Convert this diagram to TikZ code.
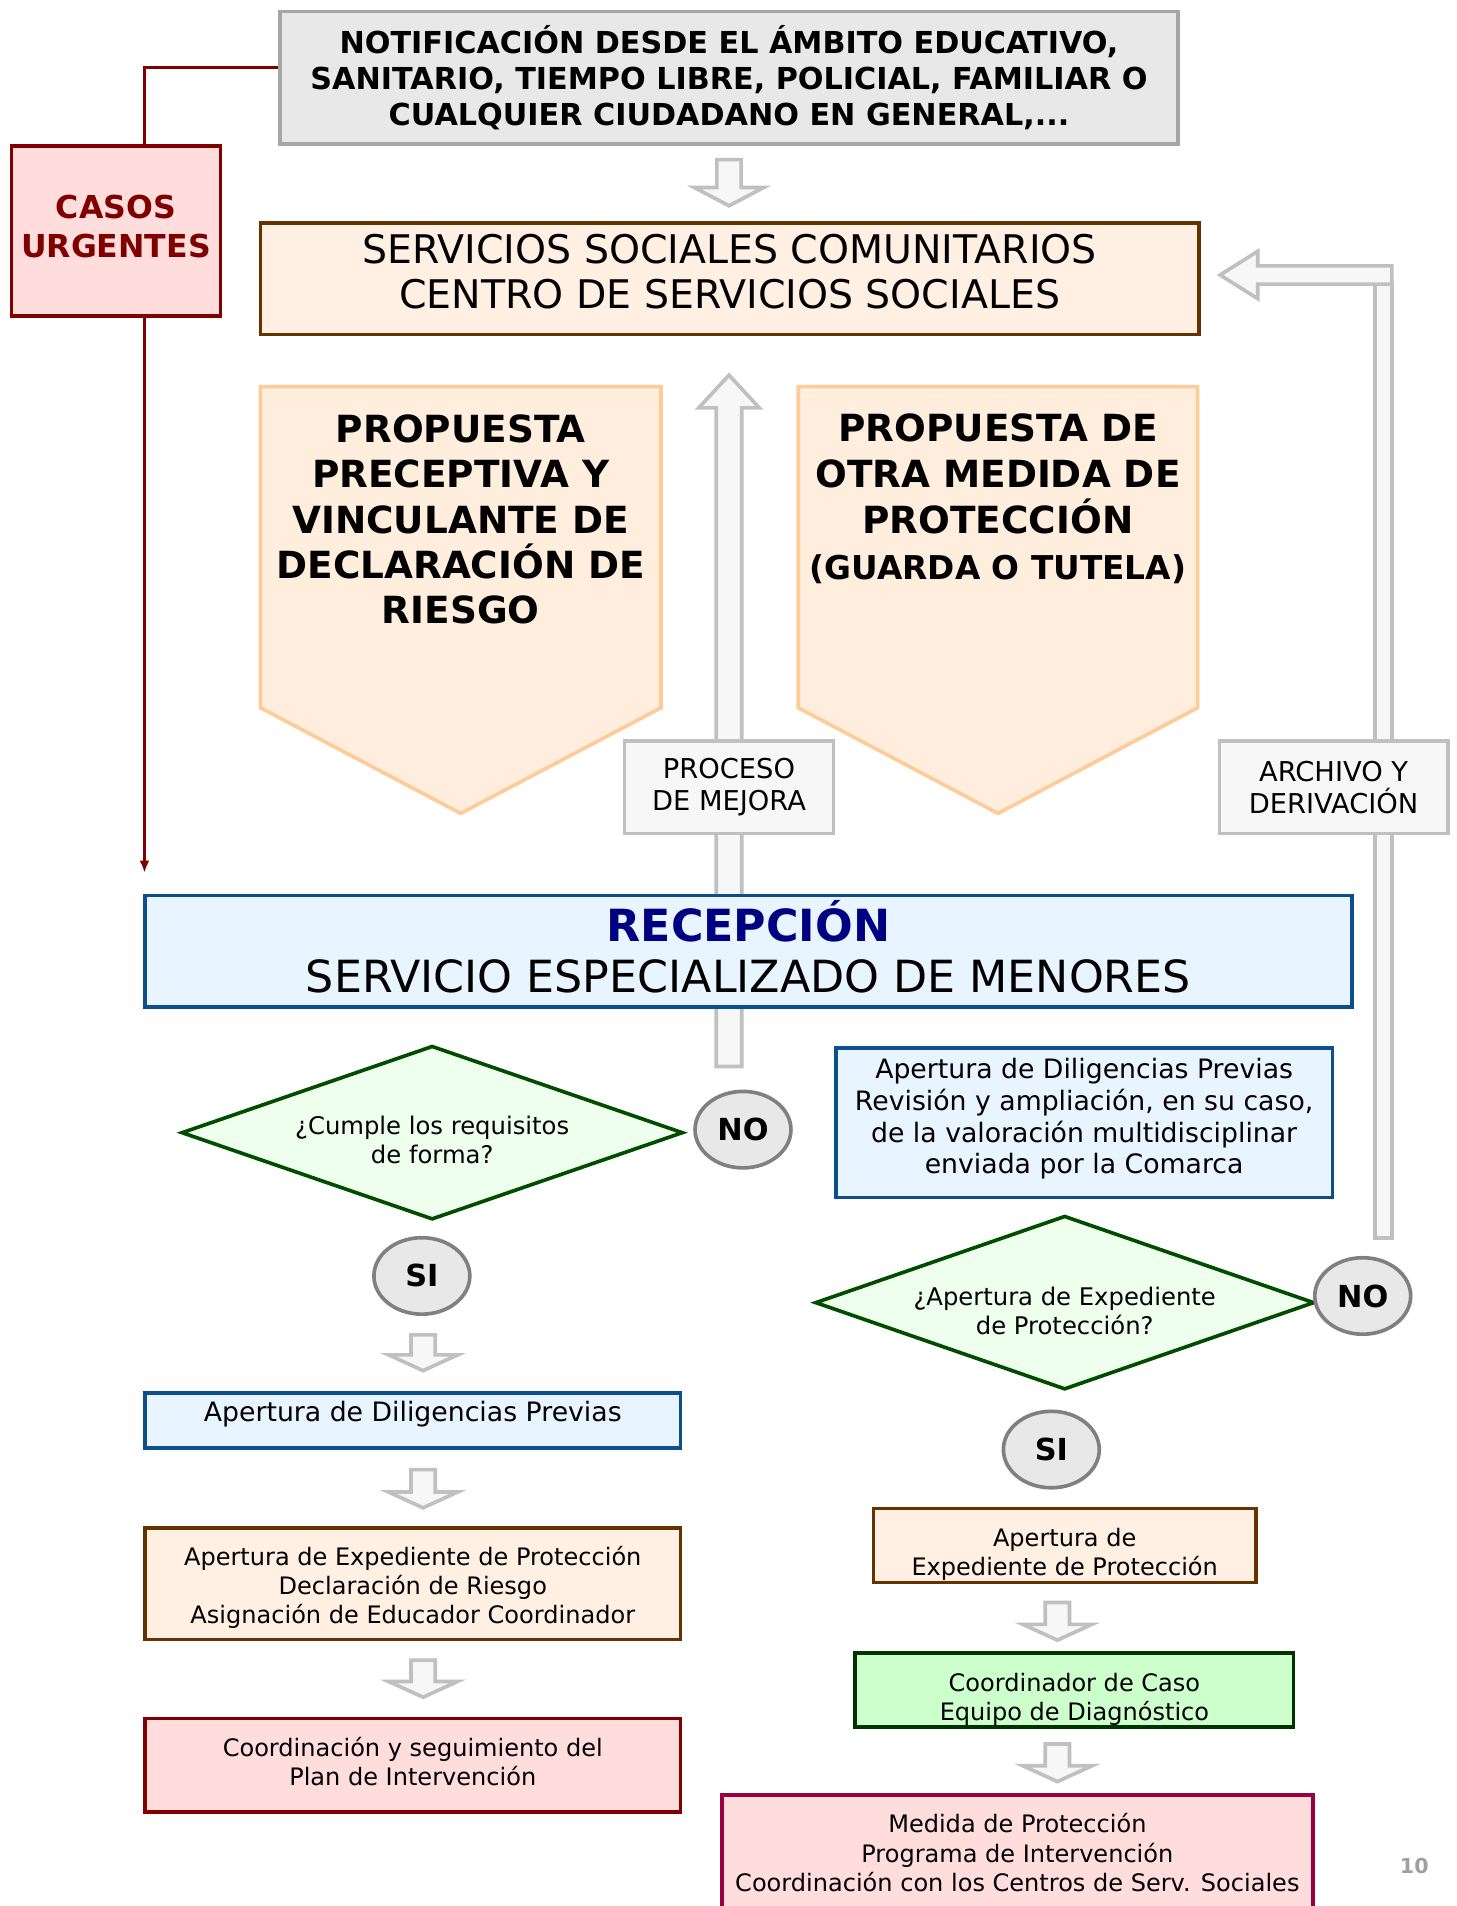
\documentclass[tikz,border=0pt]{standalone}
\usepackage{fontspec}
\setmainfont{DejaVu Sans}
\usetikzlibrary{shapes.geometric,calc,arrows.meta}
\definecolor{notifFill}{HTML}{E8E8E8}
\definecolor{notifDraw}{HTML}{A6A6A6}
\definecolor{darkred}{HTML}{800000}
\definecolor{pinkFill}{HTML}{FFDDDD}
\definecolor{arrowDraw}{HTML}{C0C0C0}
\definecolor{arrowFill}{HTML}{F7F7F7}
\definecolor{sscFill}{HTML}{FFF0E3}
\definecolor{sscDraw}{HTML}{663300}
\definecolor{pentFill}{HTML}{FFEDDD}
\definecolor{pentDraw}{HTML}{FFCC99}
\definecolor{recFill}{HTML}{E8F4FF}
\definecolor{recDraw}{HTML}{0B4F8C}
\definecolor{navy}{HTML}{000080}
\definecolor{decFill}{HTML}{EEFFEE}
\definecolor{decDraw}{HTML}{004D00}
\definecolor{ovalFill}{HTML}{E8E8E8}
\definecolor{ovalDraw}{HTML}{808080}
\definecolor{greenFill}{HTML}{CCFFCC}
\definecolor{greenDraw}{HTML}{003300}
\definecolor{crimson}{HTML}{990044}
\definecolor{pageGray}{HTML}{A0A0A0}
\newcommand\fsz[2]{\fontsize{#1pt}{#2pt}\selectfont}
\newcommand\hollowdown[3]{\draw[hollow] let \p1=(#1), \p2=(#2) in
  (\x1-10pt,\y1) -- (\x1+10pt,\y1) -- (\x1+10pt,\y2+#3) -- (\x1+28.5pt,\y2+#3) --
  (\x2,\y2) -- (\x1-28.5pt,\y2+#3) -- (\x1-10pt,\y2+#3) -- cycle;}
\newcommand\decisionshape[3]{\draw[decision] ($(#1)+(-#2,0)$) -- ($(#1)+(0,-#3)$) --
  ($(#1)+(#2,0)$) -- ($(#1)+(0,#3)$) -- cycle;}
\begin{document}
\begin{tikzpicture}[x=1pt,y=-1pt,
  box/.style={rectangle, draw, line width=3pt, inner sep=0pt, align=center},
  txt/.style={align=center, inner sep=0pt},
  hollow/.style={draw=arrowDraw, fill=arrowFill, line width=3pt, line join=miter},
  pent/.style={draw=pentDraw, fill=pentFill, line width=3pt, line join=miter},
  oval/.style={ellipse, draw=ovalDraw, fill=ovalFill, line width=3pt, minimum width=79pt, minimum height=63pt, inner sep=0pt, font=\bfseries\fsz{25}{30}},
  decision/.style={draw=decDraw, fill=decFill, line width=3pt, line join=miter},
  dectxt/.style={txt, font=\fsz{20}{23.5}},
  redline/.style={draw=darkred, line width=2.5pt},
  small/.style={font=\fsz{19.8}{24}},
  greybox/.style={box, draw=arrowDraw, fill=arrowFill, font=\fsz{22.5}{26}}
]
\useasboundingbox (0,0) rectangle (1200,1570);
\clip (0,0) rectangle (1200,1570);
\fill[white] (0,0) rectangle (1200,1570);

% ---- big hollow arrows (behind) ----
\coordinate (pmB) at (600.5,878.5);
\coordinate (pmT) at (600.5,309);
\draw[hollow] let \p1=(pmB), \p2=(pmT) in
  (\x1-10.5pt,\y1) -- (\x1+10.5pt,\y1) -- (\x1+10.5pt,\y2-27pt) -- (\x1+25pt,\y2-27pt) --
  (\x2,\y2) -- (\x1-25pt,\y2-27pt) -- (\x1-10.5pt,\y2-27pt) -- cycle;

\coordinate (adB) at (1139.5,1019.5);
\coordinate (adC) at (1139.5,226.5);
\coordinate (adT) at (1005,226.5);
\draw[hollow] let \p1=(adB), \p2=(adC) in (\x1-7pt,\y1) rectangle (\x1+7pt,\y2-7.5pt);
\draw[hollow] let \p1=(adC), \p2=(adT) in
  (\x1+7pt,\y1+7.5pt) -- (\x2+31pt,\y1+7.5pt) -- (\x2+31pt,\y1+19.5pt) -- (\x2,\y2) --
  (\x2+31pt,\y1-19.5pt) -- (\x2+31pt,\y1-7.5pt) -- (\x1+7pt,\y1-7.5pt) -- cycle;

% ---- top ----
\node[box, draw=notifDraw, fill=notifFill, minimum width=740pt, minimum height=109pt,
  font=\bfseries\fsz{24.9}{29.5}] (notif) at (600.5,64)
  {NOTIFICACIÓN DESDE EL ÁMBITO EDUCATIVO,\\SANITARIO, TIEMPO LIBRE, POLICIAL, FAMILIAR O\\CUALQUIER CIUDADANO EN GENERAL,...};

\node[box, draw=darkred, fill=pinkFill, minimum width=172pt, minimum height=140pt] (casos) at (95.5,190.5) {};
\node[txt, text=darkred, font=\bfseries\fsz{26}{32}] (casostxt) at (95.5,186.5) {CASOS\\URGENTES};

\node[box, draw=sscDraw, fill=sscFill, minimum width=773pt, minimum height=92pt] (ssc) at (601,229.5) {};
\node[txt, font=\fsz{32.5}{37}] (ssctxt) at (601,223.5) {SERVICIOS SOCIALES COMUNITARIOS\\CENTRO DE SERVICIOS SOCIALES};

% red connector
\coordinate (rx) at (119,0);
\draw[redline] ($(notif.west)+(0,-8)$) -| (casos.north -| rx);

% ---- pentagons ----
\draw[pent] (214.5,318.5) -- (544.5,318.5) -- (544.5,583) -- (379.5,670) -- (214.5,583) -- cycle;
\node[txt, font=\bfseries\fsz{30.8}{37.3}] (pentL) at (379.5,428)
  {PROPUESTA\\PRECEPTIVA Y\\VINCULANTE DE\\DECLARACIÓN DE\\RIESGO};
\draw[pent] (657.5,318.5) -- (986.5,318.5) -- (986.5,583) -- (822,670) -- (657.5,583) -- cycle;
\node[txt, font=\bfseries\fsz{30.8}{37.8}] (pentR) at (822,411)
  {PROPUESTA DE\\OTRA MEDIDA DE\\PROTECCIÓN\\{\fsz{27}{37.8}(GUARDA O TUTELA)}};

% ---- grey label boxes ----
\node[greybox, minimum width=172pt, minimum height=76pt] (pmbox) at (600.5,648.5) {PROCESO\\DE MEJORA};
\node[greybox, minimum width=188pt, minimum height=76pt] (adbox) at (1098.5,648.5) {ARCHIVO Y\\DERIVACIÓN};

% ---- recepcion ----
\node[box, draw=recDraw, fill=recFill, minimum width=994pt, minimum height=92pt] (recep) at (616.5,783.5) {};
\node[txt, font=\fsz{36.5}{42}] (reptxt) at (616.5,779.5)
  {{\color{navy}\bfseries RECEPCIÓN}\\SERVICIO ESPECIALIZADO DE MENORES};

\draw[redline, -{Latex[length=10pt,width=8pt]}] (casos.south -| rx) -- ($(rx |- recep.north)+(0,-17)$);

% ---- left column ----
\coordinate (q1c) at (356,933);
\decisionshape{q1c}{206}{71}
\node[dectxt] (q1) at (356,939) {¿Cumple los requisitos\\de forma?};
\node[oval] (no1) at (612,930.5) {NO};
\node[oval] (si1) at (347.5,1051) {SI};

\node[box, draw=recDraw, fill=recFill, minimum width=441pt, minimum height=45pt] (dpL) at (340,1170) {};
\node[txt, font=\fsz{22}{24.5}] (dpLtxt) at (340,1165) {Apertura de Diligencias Previas};
\node[box, draw=sscDraw, fill=sscFill, minimum width=441pt, minimum height=92pt] (expL) at (340,1304.5) {};
\node[txt, small] (expLtxt) at (340,1307.5)
  {Apertura de Expediente de Protección\\Declaración de Riesgo\\Asignación de Educador Coordinador};
\node[box, draw=darkred, fill=pinkFill, minimum width=441pt, minimum height=77pt] (planL) at (340,1454) {};
\node[txt, small] (planLtxt) at (340,1451) {Coordinación y seguimiento del\\Plan de Intervención};

% ---- right column ----
\node[box, draw=recDraw, fill=recFill, minimum width=409pt, minimum height=123pt] (dpR) at (893,925) {};
\node[txt, font=\fsz{22}{26.3}] (dpRtxt) at (893,921.5)
  {Apertura de Diligencias Previas\\Revisión y ampliación, en su caso,\\de la valoración multidisciplinar\\enviada por la Comarca};
\coordinate (q2c) at (877,1073);
\decisionshape{q2c}{205}{71}
\node[dectxt] (q2) at (877,1080) {¿Apertura de Expediente\\de Protección?};
\node[oval] (no2) at (1122.5,1067.5) {NO};
\node[oval] (si2) at (866,1194) {SI};
\node[box, draw=sscDraw, fill=sscFill, minimum width=315pt, minimum height=61pt] (expR) at (877,1273) {};
\node[txt, small] (expRtxt) at (877,1280) {Apertura de\\Expediente de Protección};
\node[box, draw=greenDraw, fill=greenFill, minimum width=361pt, minimum height=61pt] (coord) at (885,1392) {};
\node[txt, small] (coordtxt) at (885,1399.5) {Coordinador de Caso\\Equipo de Diagnóstico};
\node[box, draw=crimson, fill=pinkFill, minimum width=487pt, minimum height=130pt] (medida) at (838,1543.5) {};
\node[txt, small] (medtxt) at (838,1526)
  {Medida de Protección\\Programa de Intervención\\Coordinación con los Centros de Serv. Sociales};

% ---- small hollow arrows ----
\coordinate (s0t) at (600.5,131.5); \coordinate (s0h) at (600.5,169.5);
\hollowdown{s0t}{s0h}{15pt}
\coordinate (s1t) at (348.5,1099.5); \coordinate (s1h) at (348.5,1129);
\hollowdown{s1t}{s1h}{13pt}
\coordinate (s2t) at (348.5,1210.5); \coordinate (s2h) at (348.5,1242);
\hollowdown{s2t}{s2h}{13pt}
\coordinate (s3t) at (348.5,1367.5); \coordinate (s3h) at (348.5,1398);
\hollowdown{s3t}{s3h}{13pt}
\coordinate (s4t) at (871,1320); \coordinate (s4h) at (871,1351);
\hollowdown{s4t}{s4h}{13pt}
\coordinate (s5t) at (871,1436.5); \coordinate (s5h) at (871,1467.5);
\hollowdown{s5t}{s5h}{13pt}

\node[font=\bfseries\fsz{17}{20}, text=pageGray, inner sep=0pt] (pnum) at (1165,1537) {10};
\end{tikzpicture}
\end{document}
